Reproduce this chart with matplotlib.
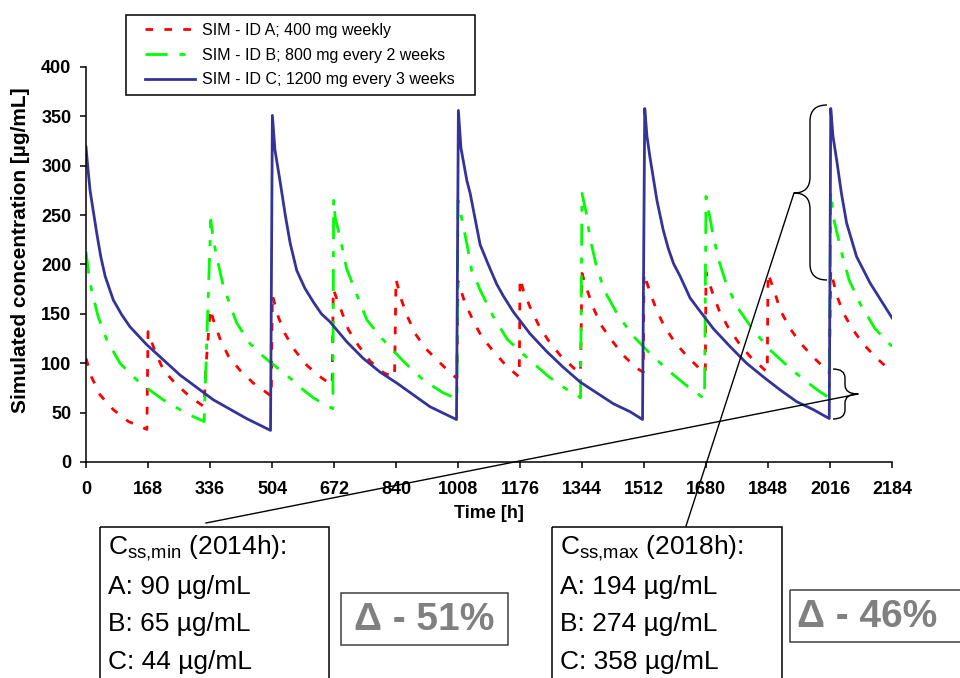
import matplotlib
matplotlib.use("Agg")
import matplotlib.pyplot as plt
from matplotlib.lines import Line2D
from matplotlib.patches import Rectangle, PathPatch
from matplotlib.path import Path
from matplotlib.transforms import Affine2D

plt.rcParams['font.family'] = ['Liberation Sans', 'DejaVu Sans']
plt.rcParams['lines.scale_dashes'] = False

# --- data (time in h, conc in ug/mL) ---
time_a = [0, 15, 38, 74, 115, 165,
          168, 187, 210, 241, 282, 320,
          325, 337, 345, 363, 386, 417, 453, 494, 502,
          505, 521, 539, 566, 598, 639, 667,
          670, 693, 711, 738, 770, 808, 836,
          840, 853, 869, 892, 920, 955, 993, 1005,
          1008, 1027, 1048, 1072, 1104, 1140, 1174,
          1176, 1185, 1203, 1226, 1253, 1285, 1322, 1340,
          1344, 1358, 1375, 1395, 1425, 1456, 1492, 1510,
          1512, 1528, 1545, 1566, 1596, 1629, 1664, 1678,
          1680, 1697, 1715, 1739, 1768, 1799, 1837, 1846,
          1848, 1867, 1881, 1908, 1937, 1971, 2007, 2014,
          2018, 2034, 2052, 2078, 2107, 2143, 2184]
conc_a = [105, 86, 68, 53, 41, 33,
          132, 112, 93, 80, 66, 56,
          97, 155, 144, 125, 107, 93, 80, 69, 66,
          169, 147, 130, 113, 98, 85, 78,
          175, 152, 134, 118, 102, 90, 86,
          185, 166, 149, 130, 115, 102, 88, 85,
          183, 161, 144, 127, 112, 97, 86,
          186, 174, 157, 139, 123, 108, 95, 90,
          191, 174, 156, 139, 123, 108, 95, 91,
          191, 172, 155, 138, 121, 107, 94, 90,
          192, 172, 154, 137, 121, 107, 94, 91,
          191, 171, 154, 135, 120, 106, 93, 90,
          194, 169, 151, 134, 119, 105, 91]

time_b = [0, 7, 15, 33, 56, 92, 146, 209, 273, 320,
          338, 345, 354, 372, 408, 444, 480, 526, 553, 582, 616, 643, 669,
          671, 675, 688, 706, 733, 761, 797, 860, 914, 968, 1005,
          1008, 1032, 1045, 1072, 1104, 1142, 1200, 1255, 1316, 1340,
          1344, 1355, 1366, 1382, 1404, 1438, 1479, 1533, 1583, 1632, 1676,
          1680, 1698, 1714, 1736, 1768, 1809, 1855, 1910, 1964, 1989, 2014,
          2018, 2025, 2048, 2068, 2098, 2138, 2184]
conc_b = [213, 192, 174, 147, 124, 100, 80, 63, 49, 41,
          245, 225, 208, 178, 141, 120, 107, 93, 85, 75, 65, 59, 54,
          266, 248, 228, 196, 170, 144, 127, 102, 83, 70, 64,
          265, 221, 194, 171, 147, 124, 104, 86, 70, 65,
          272, 253, 226, 200, 174, 151, 129, 108, 91, 76, 64,
          269, 232, 205, 179, 155, 133, 113, 94, 78, 71, 65,
          274, 248, 211, 184, 160, 135, 117]

time_c = [0, 5, 11, 29, 40, 52, 74, 97, 119, 164, 255, 345, 435, 500,
          505, 512, 526, 540, 553, 571, 593, 616, 638, 661, 706, 751, 797, 842, 887, 932, 1004,
          1009, 1016, 1032, 1041, 1068, 1090, 1113, 1131, 1158, 1203, 1248, 1293, 1339, 1384, 1429, 1474, 1508,
          1514, 1520, 1528, 1547, 1564, 1578, 1592, 1610, 1637, 1655, 1700, 1745, 1790, 1836, 1881, 1926, 1971, 2014,
          2018, 2024, 2034, 2047, 2061, 2088, 2125, 2184]
conc_c = [319, 298, 275, 232, 208, 188, 164, 149, 137, 119, 88, 63, 44, 32,
          351, 316, 284, 250, 222, 194, 176, 162, 150, 142, 122, 105, 91, 80, 68, 56, 43,
          356, 318, 285, 272, 220, 200, 180, 168, 152, 130, 112, 96, 81, 70, 59, 51, 43,
          358, 330, 309, 265, 235, 216, 201, 188, 166, 157, 135, 117, 100, 86, 73, 61, 53, 44,
          358, 330, 306, 272, 242, 208, 181, 146]

series_labels = ['SIM - ID A; 400 mg weekly',
                 'SIM - ID B; 800 mg every 2 weeks',
                 'SIM - ID C; 1200 mg every 3 weeks']
x_ticks = list(range(0, 2185, 168))
y_ticks = list(range(0, 401, 50))

min_lines = ['A: 90 µg/mL', 'B: 65 µg/mL', 'C: 44 µg/mL']
max_lines = ['A: 194 µg/mL', 'B: 274 µg/mL', 'C: 358 µg/mL']

W, H = 960, 678
fig = plt.figure(figsize=(W / 100, H / 100), dpi=100)
# pixel coordinates of the reference picture (origin top-left)
pix = Affine2D().scale(1 / W, -1 / H).translate(0, 1) + fig.transFigure

ax = fig.add_axes([86 / W, 1 - 462 / H, 806 / W, 395 / H])
la, = ax.plot(time_a, conc_a, color='#FF0000', lw=2, dashes=[5.5, 8.1], label=series_labels[0])
lb, = ax.plot(time_b, conc_b, color='#00FF00', lw=2, dashes=[15.8, 8.6, 4.3, 8.6], label=series_labels[1])
lc, = ax.plot(time_c, conc_c, color='#333399', lw=2, label=series_labels[2])

ax.set_xlim(0, 2184)
ax.set_ylim(0, 400)
ax.set_xticks(x_ticks)
ax.set_yticks(y_ticks)
for s in ['top', 'right']:
    ax.spines[s].set_visible(False)
for s in ['left', 'bottom']:
    ax.spines[s].set_linewidth(1.1)
ax.tick_params(direction='out', length=4.5, width=1.1, labelsize=13)
ax.tick_params(axis='x', pad=9)
ax.tick_params(axis='y', pad=6)
for lab in ax.get_xticklabels() + ax.get_yticklabels():
    lab.set_fontweight('bold')
ax.set_xlabel('Time [h]', fontsize=13, fontweight='bold', labelpad=5)
ax.set_ylabel('Simulated concentration [µg/mL]', fontsize=15, fontweight='bold')
ax.yaxis.set_label_coords(-0.069, 0.535)

# legend with a hand-placed frame
leg = ax.legend(handles=[la, lb, lc], loc='upper left',
                bbox_to_anchor=(145 / W, 1 - 23 / H), bbox_transform=fig.transFigure,
                frameon=False, borderpad=0, borderaxespad=0, fontsize=11.5,
                handlelength=3.1, handletextpad=0.5, labelspacing=0.6)
fig.add_artist(Rectangle((126, 15), 349, 80, transform=pix, fill=False,
                         edgecolor='black', lw=1.1))

# text boxes under the chart
fig.add_artist(Rectangle((100, 527), 229, 180, transform=pix, fill=False, edgecolor='black', lw=1.1))
fig.add_artist(Rectangle((552, 527), 230, 180, transform=pix, fill=False, edgecolor='black', lw=1.1))
fig.add_artist(Rectangle((341, 593), 167, 52, transform=pix, fill=False, edgecolor='#404040', lw=1.1))
fig.add_artist(Rectangle((790, 590), 180, 52, transform=pix, fill=False, edgecolor='#404040', lw=1.1))

ys = [548, 587, 624, 662]
fig.text(108, ys[0], r'C$_{\mathregular{ss{,}min}}$ (2014h):', transform=pix, fontsize=19, va='center')
fig.text(560, ys[0], r'C$_{\mathregular{ss{,}max}}$ (2018h):', transform=pix, fontsize=19, va='center')
for y, t1, t2 in zip(ys[1:], min_lines, max_lines):
    fig.text(108, y, t1, transform=pix, fontsize=19, va='center')
    fig.text(560, y, t2, transform=pix, fontsize=19, va='center')
fig.text(424, 620, 'Δ - 51%', transform=pix, fontsize=28, fontweight='bold',
         color='#808080', ha='center', va='center')
fig.text(797, 617, 'Δ - 46%', transform=pix, fontsize=28, fontweight='bold',
         color='#808080', ha='left', va='center')

# connector lines
fig.add_artist(Line2D([206, 858], [523, 394], transform=pix, color='black', lw=1))
fig.add_artist(Line2D([686, 794], [526, 193], transform=pix, color='black', lw=1))

# curly braces
def brace(tip, x_mid, x_end, y_top, y_bot, r):
    tx, ty = tip
    verts = [(x_end, y_top), (x_mid, y_top), (x_mid, y_top + r),
             (x_mid, ty - r), (x_mid, ty), (tx, ty),
             (x_mid, ty), (x_mid, ty + r),
             (x_mid, y_bot - r), (x_mid, y_bot), (x_end, y_bot)]
    codes = [Path.MOVETO, Path.CURVE3, Path.CURVE3,
             Path.LINETO, Path.CURVE3, Path.CURVE3,
             Path.CURVE3, Path.CURVE3,
             Path.LINETO, Path.CURVE3, Path.CURVE3]
    return PathPatch(Path(verts, codes), transform=pix, fill=False, edgecolor='black', lw=1)

fig.add_artist(brace((794, 193), 810, 827, 105, 280, 16))
fig.add_artist(brace((858, 394), 845, 833, 369, 419, 9))

fig.savefig('out.png', dpi=100)
